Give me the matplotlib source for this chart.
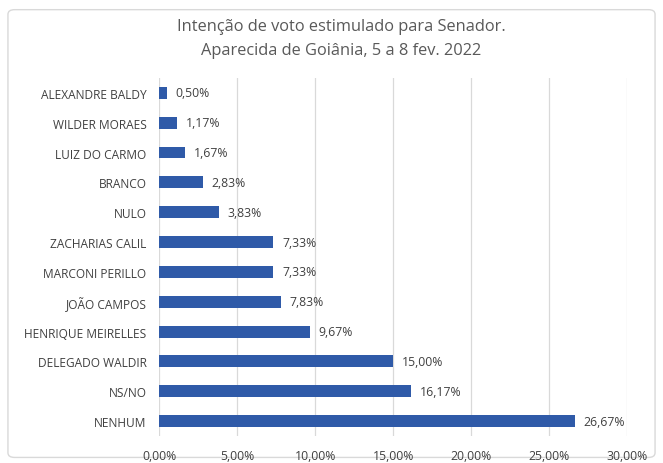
import matplotlib.pyplot as plt
from matplotlib.patches import FancyBboxPatch

# Dados (de baixo para cima)
candidatos = ['NENHUM', 'NS/NO', 'DELEGADO WALDIR', 'HENRIQUE MEIRELLES',
              'JOÃO CAMPOS', 'MARCONI PERILLO', 'ZACHARIAS CALIL', 'NULO',
              'BRANCO', 'LUIZ DO CARMO', 'WILDER MORAES', 'ALEXANDRE BALDY']
percentuais = [26.67, 16.17, 15.00, 9.67, 7.83, 7.33, 7.33, 3.83,
               2.83, 1.67, 1.17, 0.50]
ticks_x = [0, 5, 10, 15, 20, 25, 30]

def fmt_pct(v):
    return f"{v:.2f}%".replace('.', ',')

plt.rcParams['font.family'] = ['Open Sans', 'DejaVu Sans']

fig = plt.figure(figsize=(6.63, 4.64), dpi=100)
borda = FancyBboxPatch((0.012, 0.012), 0.976, 0.965,
                       boxstyle='round,pad=0,rounding_size=0.01',
                       transform=fig.transFigure, facecolor='white',
                       edgecolor='#D9D9D9', linewidth=1.0, zorder=-5)
fig.patches.append(borda)

ax = fig.add_axes([0.240, 0.058, 0.706, 0.772])
ax.set_facecolor('none')

y = range(len(candidatos))
ax.barh(y, percentuais, height=0.4, color='#2F5AA8', zorder=3)

for i, v in enumerate(percentuais):
    ax.text(v + 0.55, i, fmt_pct(v), va='center', ha='left',
            fontsize=8.8, color='#404040')

ax.set_yticks(list(y))
ax.set_yticklabels(candidatos, fontsize=8.6, color='#404040')
ax.set_xticks(ticks_x)
ax.set_xticklabels([fmt_pct(t) for t in ticks_x], fontsize=8.8, color='#404040')
ax.set_xlim(0, 30)
ax.set_ylim(-0.5, len(candidatos) - 0.5)

ax.grid(axis='x', color='#D9D9D9', linewidth=0.9, zorder=0)
for s in ax.spines.values():
    s.set_visible(False)
ax.tick_params(axis='both', length=0)
ax.tick_params(axis='x', pad=9)
ax.tick_params(axis='y', pad=9)

fig.text(0.515, 0.941, 'Intenção de voto estimulado para Senador.',
         ha='center', va='center', fontsize=11.8, color='#595959')
fig.text(0.515, 0.891, 'Aparecida de Goiânia, 5 a 8 fev. 2022',
         ha='center', va='center', fontsize=11.8, color='#595959')

fig.savefig('out.png', dpi=100)
